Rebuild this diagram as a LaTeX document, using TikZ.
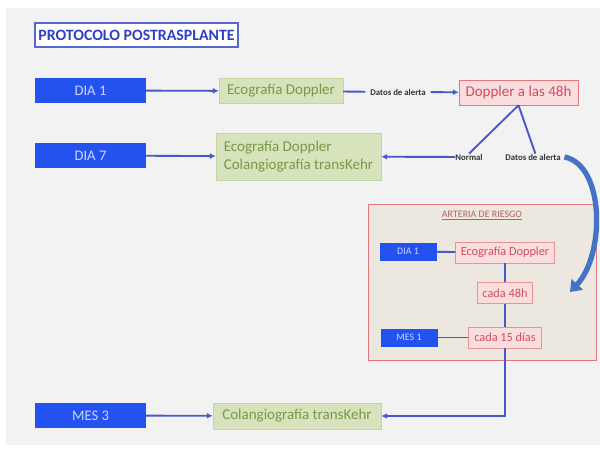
\documentclass[tikz,border=0pt]{standalone}
\usepackage{fontspec}
\setmainfont{Carlito}
\usepackage{xcolor}
\usetikzlibrary{arrows.meta}

\definecolor{panel}{RGB}{242,242,242}
\definecolor{dayblue}{RGB}{36,82,238}
\definecolor{daytext}{RGB}{200,214,255}
\definecolor{greenfill}{RGB}{214,227,188}
\definecolor{greenline}{RGB}{196,214,160}
\definecolor{greentext}{RGB}{122,152,70}
\definecolor{pinkfill}{RGB}{250,222,222}
\definecolor{pinkline}{RGB}{226,120,124}
\definecolor{pinktext}{RGB}{206,76,96}
\definecolor{riskfill}{RGB}{236,232,224}
\definecolor{linkblue}{RGB}{72,88,200}
\definecolor{bigarrow}{RGB}{68,114,196}
\definecolor{titleblue}{RGB}{48,64,196}

\begin{document}
\begin{tikzpicture}[x=0.03cm, y=-0.03cm,
  every node/.style={inner sep=0pt},
  day/.style={fill=dayblue, text=daytext, minimum width=3.33cm, minimum height=0.75cm, font=\fontsize{12.5}{14}\selectfont},
  small day/.style={fill=dayblue, text=daytext, minimum width=1.71cm, minimum height=0.54cm, font=\fontsize{8.5}{10}\selectfont},
  exam/.style={fill=greenfill, draw=greenline, text=greentext, font=\fontsize{12.8}{15}\selectfont},
  alert/.style={fill=pinkfill, draw=pinkline, text=pinktext, font=\fontsize{12.8}{15}\selectfont},
  small alert/.style={fill=pinkfill, draw=pinkline!80, text=pinktext, minimum height=0.63cm, font=\fontsize{10.5}{12}\selectfont},
  tag/.style={text=black!80, font=\fontsize{7.5}{9}\selectfont\bfseries},
  link/.style={draw=linkblue, line width=1.6pt},
  go/.style={link, -{Latex[length=5pt, width=5pt]}}]

  % background
  \useasboundingbox (0,0) rectangle (600,453);
  \fill[white] (0,0) rectangle (600,453);
  \fill[panel] (6,8) rectangle (600,445);

  \node[draw=titleblue!80!white, line width=1.3pt, fill=white, text=titleblue, minimum width=6.09cm, minimum height=0.72cm, font=\fontsize{13.5}{15}\selectfont\bfseries] (title) at (136.5,35) {PROTOCOLO POSTRASPLANTE};

  % days
  \node[day] (dia1) at (90.5,90.5) {DIA 1};
  \node[day] (dia7) at (90.5,155.5) {DIA 7};
  \node[day] (mes3) at (90.5,415.5) {MES 3};

  % exams
  \node[exam, minimum width=3.72cm, minimum height=0.75cm] (eco1) at (281,91) {Ecografía Doppler};
  \node[exam, minimum width=4.95cm, minimum height=1.41cm, align=left] (eco2) at (298.5,156.5) {Ecografía Doppler\\Colangiografía transKehr};
  \node[exam, minimum width=5.04cm, minimum height=0.78cm] (col) at (297,416) {Colangiografía transKehr};

  \node[tag, fill=panel, inner xsep=4pt] (alert1) at (398,92) {Datos de alerta};
  \node[alert, minimum width=3.57cm, minimum height=0.75cm] (dop48) at (518.5,92.5) {Doppler a las 48h};
  \node[tag] (normal) at (469,157) {Normal};
  \node[tag] (alert2) at (533,157) {Datos de alerta};

  % risk artery
  \node[draw=pinkline, fill=riskfill, line width=0.8pt, minimum width=6.84cm, minimum height=4.68cm] (risk) at (482,282) {};
  \node[text=pinkline!80!black, font=\fontsize{8.5}{10}\selectfont] (risktitle) at (482,215) {\underline{ARTERIA DE RIESGO}};
  \node[small day] (dia1b) at (408,251.5) {DIA 1};
  \node[small day] (mes1) at (409,337.5) {MES 1};
  \node[small alert, minimum width=2.97cm] (eco3) at (505,252.5) {Ecografía Doppler};
  \node[small alert, minimum width=1.65cm] (c48) at (505,293) {cada 48h};
  \node[small alert, minimum width=2.19cm] (c15) at (505,337.5) {cada 15 días};

  % connectors
  \draw[go] (dia1) -- (eco1);
  \draw[go] (dia7) -- (eco2);
  \draw[go] (mes3) -- (col);
  \draw[link] (eco1) -- (alert1);
  \draw[go] (alert1) -- (dop48);
  \draw[link] (dop48.south) -- (normal.north);
  \draw[link] (dop48.south) -- ([xshift=2pt]alert2.north);
  \draw[go] (normal) -- (eco2);
  \draw[link] (dia1b) -- (eco3);
  \draw[link] (eco3) -- (c48);
  \draw[link] (c48) -- (c15);
  \draw[link] (mes1) -- (c15);
  \draw[go] (c15.south) |- (col.east);
  \draw[bigarrow, line width=4.5pt, -{Triangle[length=9pt, width=13pt]}] ([xshift=3pt]alert2.east) .. controls (605,165) and (605,255) .. (570,292);
\end{tikzpicture}
\end{document}
